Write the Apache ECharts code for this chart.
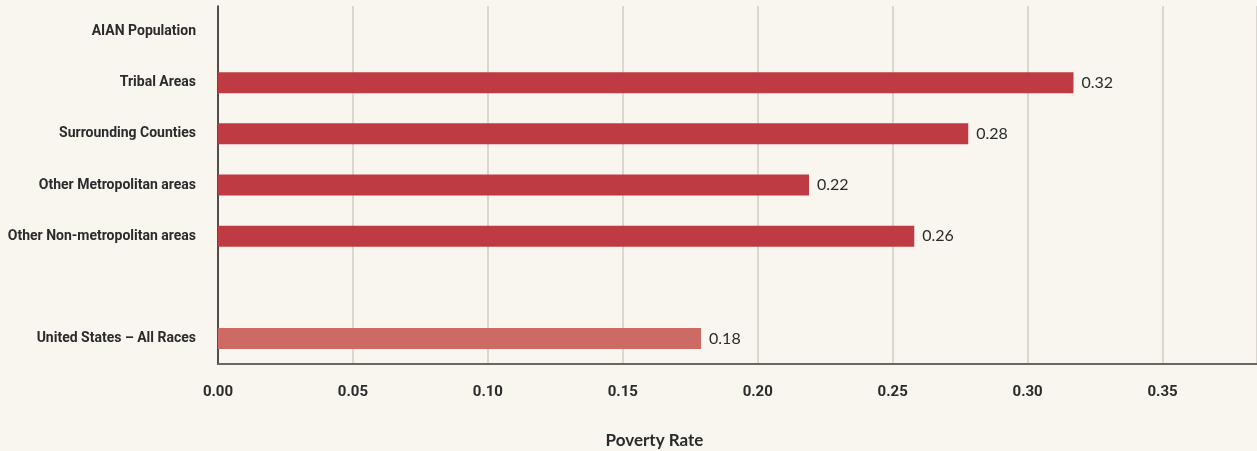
<!DOCTYPE html>
<html>
<head>
<meta charset="utf-8">
<script src="https://cdn.jsdelivr.net/npm/echarts@6/dist/echarts.min.js"></script>
<style>
  html, body { margin: 0; padding: 0; background: #f9f5ef; }
  #main { width: 1257px; height: 451px; }
</style>
</head>
<body>
<div id="main"></div>
<script>
// categories top to bottom, ' ' is the empty spacer row
var categories = ['AIAN Population', 'Tribal Areas', 'Surrounding Counties', 'Other Metropolitan areas',
  'Other Non-metropolitan areas', ' ', 'United States \u2013 All Races']
var povertyRate = ['-', 0.317, 0.278, 0.219, 0.258, '-', 0.179]
var xTicks = [0, 0.05, 0.10, 0.15, 0.20, 0.25, 0.30, 0.35]

var labelFont = 'Roboto, "Liberation Sans", sans-serif'
var chart = echarts.init(document.getElementById('main'))

var option = {
  backgroundColor: '#f9f5ef',
  animation: false,
  grid: {
    left: 218,
    right: 0,
    top: 6,
    bottom: 87,
    containLabel: false,
    outerBoundsMode: 'none'
  },
  xAxis: {
    type: 'value',
    min: xTicks[0],
    max: 0.385,
    interval: 0.05,
    name: 'Poverty Rate',
    nameLocation: 'middle',
    nameGap: 68,
    nameTextStyle: {
      fontFamily: 'Lato, "Open Sans", sans-serif',
      fontWeight: 'bold',
      fontSize: 17,
      color: '#2b2b2b',
      padding: [0, 166, 0, 0]
    },
    axisLine: { show: true, lineStyle: { color: '#6b6661', width: 2 } },
    axisTick: { show: false },
    splitLine: { lineStyle: { color: '#dcd6cf', width: 2 } },
    axisLabel: {
      margin: 21,
      fontFamily: labelFont,
      fontWeight: 'bold',
      fontSize: 15,
      color: '#2b2b2b',
      formatter: function (v) { return v.toFixed(2) },
      showMaxLabel: false
    }
  },
  yAxis: {
    type: 'category',
    inverse: true,
    data: categories,
    axisLine: { show: true, lineStyle: { color: '#222', width: 1.5 } },
    axisTick: { show: false },
    axisLabel: {
      margin: 22,
      fontFamily: labelFont,
      fontWeight: 'bold',
      fontSize: 14,
      color: '#2b2b2b'
    }
  },
  series: [{
    type: 'bar',
    data: povertyRate.map(function (v, i) {
      return {
        value: v,
        itemStyle: { color: i === categories.length - 1 ? '#cc6a63' : '#bf3b44' }
      }
    }),
    barWidth: 21,
    label: {
      show: true,
      position: 'right',
      distance: 8,
      fontFamily: 'Lato, "Open Sans", sans-serif',
      fontSize: 16,
      color: '#2b2b2b',
      formatter: function (p) { return p.value.toFixed(2) }
    }
  }]
}

chart.setOption(option)
</script>
</body>
</html>
